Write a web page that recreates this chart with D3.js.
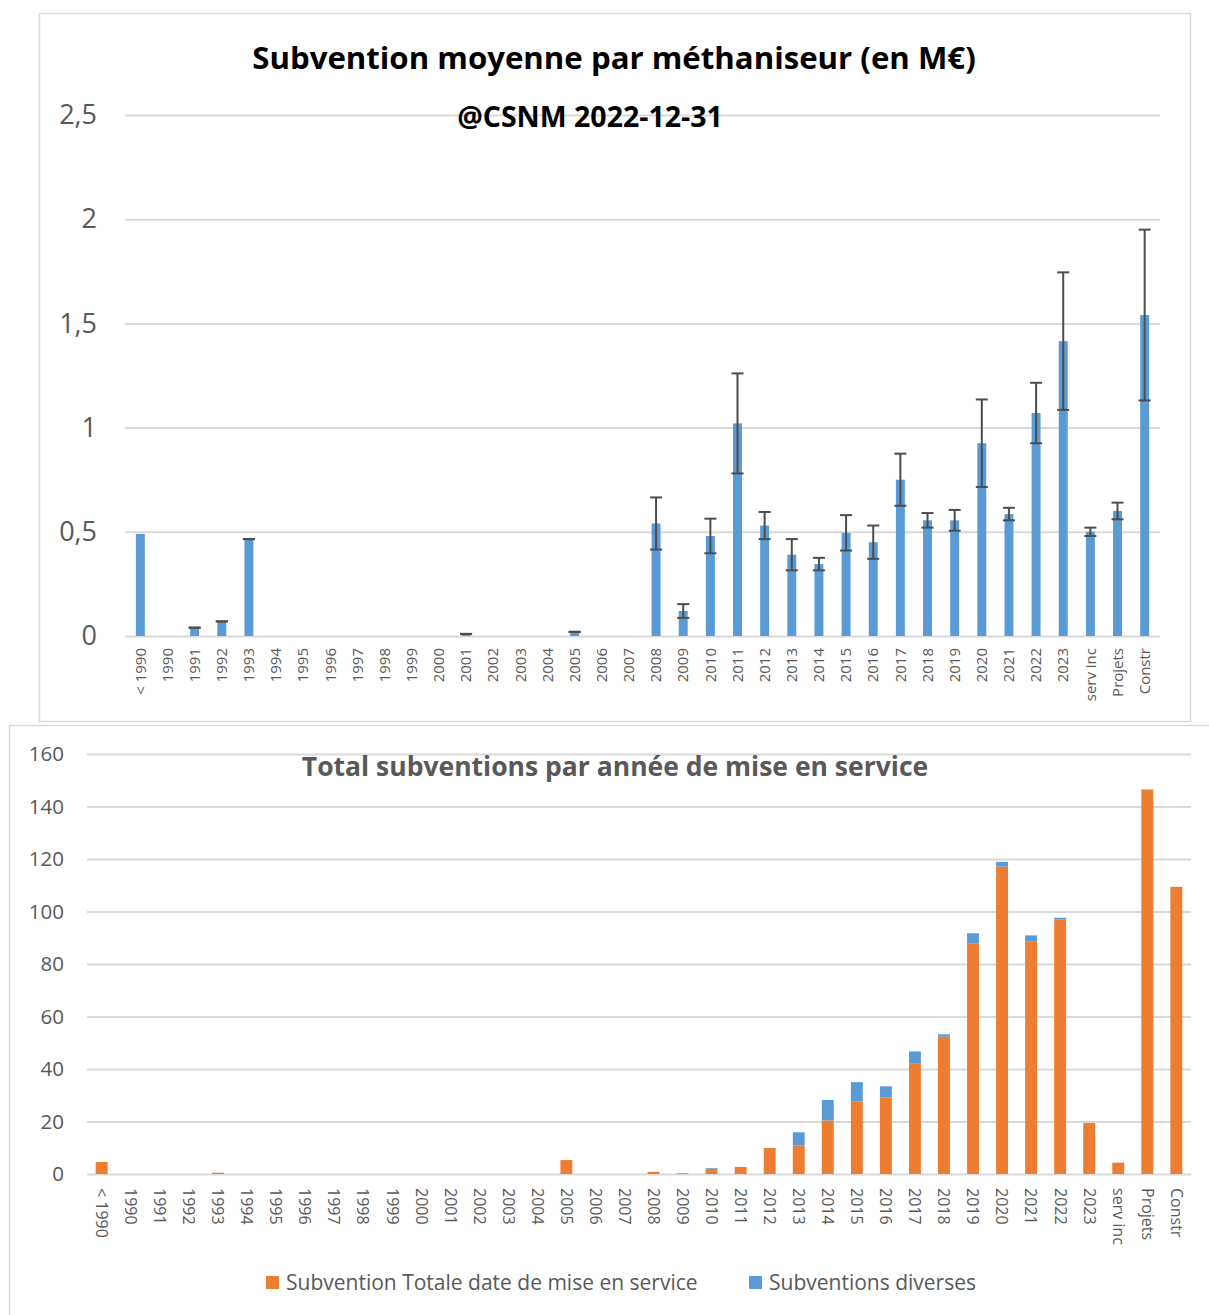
<!DOCTYPE html>
<html lang="fr">
<head>
<meta charset="UTF-8">
<title>Subventions méthaniseurs</title>
<script src="https://cdn.jsdelivr.net/npm/d3@7"></script>
<style>
    body { margin: 0; background: #fff; }
    svg { display: block; font-family: "Open Sans", sans-serif; }
</style>
</head>
<body>
<svg id="chart" width="1209" height="1315"></svg>
<script>
    // categories (shared by both charts)
    const categories = ["< 1990", "1990", "1991", "1992", "1993", "1994", "1995", "1996", "1997",
        "1998", "1999", "2000", "2001", "2002", "2003", "2004", "2005", "2006", "2007", "2008",
        "2009", "2010", "2011", "2012", "2013", "2014", "2015", "2016", "2017", "2018", "2019",
        "2020", "2021", "2022", "2023", "serv inc", "Projets", "Constr"];

    // top chart: average subsidy per digester (M€) and error bar half-width
    const moyenne = [0.49, 0, 0.04, 0.07, 0.465, 0, 0, 0, 0, 0, 0, 0, 0.01, 0, 0, 0, 0.02, 0, 0,
        0.54, 0.12, 0.48, 1.02, 0.53, 0.39, 0.345, 0.495, 0.45, 0.75, 0.555, 0.555,
        0.925, 0.585, 1.07, 1.415, 0.50, 0.60, 1.54];
    const ecart = [null, null, 0, 0, 0, null, null, null, null, null, null, null, 0, null, null, null, 0, null, null,
        0.125, 0.033, 0.083, 0.24, 0.065, 0.075, 0.03, 0.085, 0.08, 0.125, 0.035, 0.05,
        0.21, 0.03, 0.145, 0.33, 0.02, 0.04, 0.41];
    const topTicks = [0, 0.5, 1, 1.5, 2, 2.5];

    // bottom chart: totals per year (M€)
    const totale = [4.6, 0, 0, 0, 0.5, 0, 0, 0, 0, 0, 0, 0, 0, 0, 0, 0, 5.3, 0, 0,
        0.8, 0.3, 2.0, 2.7, 9.9, 10.8, 20.4, 27.7, 29.2, 42.0, 52.3, 87.9,
        117.1, 88.5, 97.0, 19.4, 4.3, 146.5, 109.4];
    const diverses = [0, 0, 0, 0, 0, 0, 0, 0, 0, 0, 0, 0, 0, 0, 0, 0, 0, 0, 0,
        0, 0, 0.3, 0, 0, 5.1, 7.8, 7.3, 4.2, 4.7, 0.9, 3.8,
        1.8, 2.4, 0.6, 0, 0, 0, 0];
    const bottomTicks = [0, 20, 40, 60, 80, 100, 120, 140, 160];

    const blue = "#5B9BD5", orange = "#ED7D31", grid = "#d9d9d9", txt = "#595959";
    const svg = d3.select("#chart");

    svg.append("rect").attr("width", 1209).attr("height", 1315).attr("fill", "#fff");

    // ---------- top chart ----------
    svg.append("rect")
        .attr("x", 39.5).attr("y", 13.5).attr("width", 1151).attr("height", 708)
        .attr("fill", "none").attr("stroke", grid).attr("stroke-width", 1.5);

    const x1 = d3.scaleBand().domain(categories).range([125, 1160]).paddingInner(0.67).paddingOuter(0.4);
    const y1 = d3.scaleLinear().domain([0, 2.5]).range([636, 115]);

    svg.append("g")
        .attr("transform", "translate(125,0)")
        .call(d3.axisLeft(y1).tickValues(topTicks).tickSize(-1035).tickFormat(""))
        .call(g => g.select(".domain").remove())
        .call(g => g.selectAll("line").attr("stroke", grid).attr("stroke-width", 2));

    svg.append("g")
        .attr("transform", "translate(97,0)")
        .call(d3.axisLeft(y1).tickValues(topTicks).tickSize(0)
            .tickFormat(d => String(d).replace(".", ",")))
        .call(g => g.select(".domain").remove())
        .call(g => g.selectAll("text").attr("x", 0).attr("fill", txt)
            .attr("font-size", 27).attr("font-family", "Open Sans"));

    const data1 = categories.map((c, i) => ({ c, v: moyenne[i], e: ecart[i] }));

    svg.append("g").selectAll("rect").data(data1).join("rect")
        .attr("x", d => x1(d.c))
        .attr("width", x1.bandwidth())
        .attr("y", d => y1(d.v))
        .attr("height", d => y1(0) - y1(d.v))
        .attr("fill", blue);

    const err = svg.append("g").attr("stroke", "#4d4d4d").attr("stroke-width", 2)
        .selectAll("g").data(data1.filter(d => d.e !== null)).join("g")
        .attr("transform", d => `translate(${x1(d.c) + x1.bandwidth() / 2},0)`);
    err.append("line")
        .attr("y1", d => y1(d.v + d.e)).attr("y2", d => y1(d.v - d.e));
    err.append("line").attr("x1", -6).attr("x2", 6)
        .attr("y1", d => y1(d.v + d.e)).attr("y2", d => y1(d.v + d.e));
    err.append("line").attr("x1", -6).attr("x2", 6)
        .attr("y1", d => y1(d.v - d.e)).attr("y2", d => y1(d.v - d.e));

    svg.append("g")
        .attr("transform", "translate(0,648)")
        .call(d3.axisBottom(x1).tickSize(0))
        .call(g => g.select(".domain").remove())
        .call(g => g.selectAll("text")
            .attr("transform", "rotate(-90)")
            .attr("text-anchor", "end")
            .attr("x", 0).attr("y", 0).attr("dy", "0.35em")
            .attr("fill", txt).attr("font-size", 15).attr("font-family", "Open Sans"));

    svg.append("text")
        .attr("x", 614).attr("y", 69)
        .attr("text-anchor", "middle")
        .attr("font-size", 31.2).attr("font-weight", "bold").attr("fill", "#000")
        .text("Subvention moyenne par méthaniseur (en M€)");

    svg.append("text")
        .attr("x", 590).attr("y", 127)
        .attr("text-anchor", "middle")
        .attr("font-size", 28.5).attr("font-weight", "bold").attr("fill", "#000")
        .text("@CSNM 2022-12-31");

    // ---------- bottom chart ----------
    svg.append("rect")
        .attr("x", 9.5).attr("y", 725.5).attr("width", 1210).attr("height", 600)
        .attr("fill", "none").attr("stroke", grid).attr("stroke-width", 1.5);

    const x2 = d3.scaleBand().domain(categories).range([87, 1191]).paddingInner(0.59).paddingOuter(0.3);
    const y2 = d3.scaleLinear().domain([0, 160]).range([1174, 754]);

    svg.append("g")
        .attr("transform", "translate(87,0)")
        .call(d3.axisLeft(y2).tickValues(bottomTicks).tickSize(-1104).tickFormat(""))
        .call(g => g.select(".domain").remove())
        .call(g => g.selectAll("line").attr("stroke", grid).attr("stroke-width", 2));

    svg.append("g")
        .attr("transform", "translate(64,0)")
        .call(d3.axisLeft(y2).tickValues(bottomTicks).tickSize(0))
        .call(g => g.select(".domain").remove())
        .call(g => g.selectAll("text").attr("x", 0).attr("fill", txt)
            .attr("font-size", 20.5).attr("font-family", "Open Sans"));

    const table = categories.map((c, i) => ({ c, totale: totale[i], diverses: diverses[i] }));
    const series = d3.stack().keys(["totale", "diverses"])(table);
    const colors = { totale: orange, diverses: blue };

    svg.append("g").selectAll("g").data(series).join("g")
        .attr("fill", s => colors[s.key])
        .selectAll("rect").data(s => s).join("rect")
        .attr("x", d => x2(d.data.c))
        .attr("width", x2.bandwidth())
        .attr("y", d => y2(d[1]))
        .attr("height", d => y2(d[0]) - y2(d[1]));

    svg.append("g")
        .attr("transform", "translate(0,1188)")
        .call(d3.axisBottom(x2).tickSize(0))
        .call(g => g.select(".domain").remove())
        .call(g => g.selectAll("text")
            .attr("transform", "rotate(90)")
            .attr("text-anchor", "start")
            .attr("x", 0).attr("y", 0).attr("dy", "0.35em")
            .attr("fill", txt).attr("font-size", 16).attr("font-family", "Open Sans"));

    svg.append("text")
        .attr("x", 615).attr("y", 776)
        .attr("text-anchor", "middle")
        .attr("font-size", 26.5).attr("font-weight", "bold").attr("fill", txt)
        .text("Total subventions par année de mise en service");

    const legend = [
        { label: "Subvention Totale date de mise en service", color: orange, x: 266 },
        { label: "Subventions diverses", color: blue, x: 749 }
    ];
    const lg = svg.append("g").selectAll("g").data(legend).join("g")
        .attr("transform", d => `translate(${d.x},1276)`);
    lg.append("rect").attr("width", 13).attr("height", 13).attr("fill", d => d.color);
    lg.append("text").attr("x", 20).attr("y", 7).attr("dy", "0.35em")
        .attr("font-size", 21).attr("fill", txt).text(d => d.label);
</script>
</body>
</html>
